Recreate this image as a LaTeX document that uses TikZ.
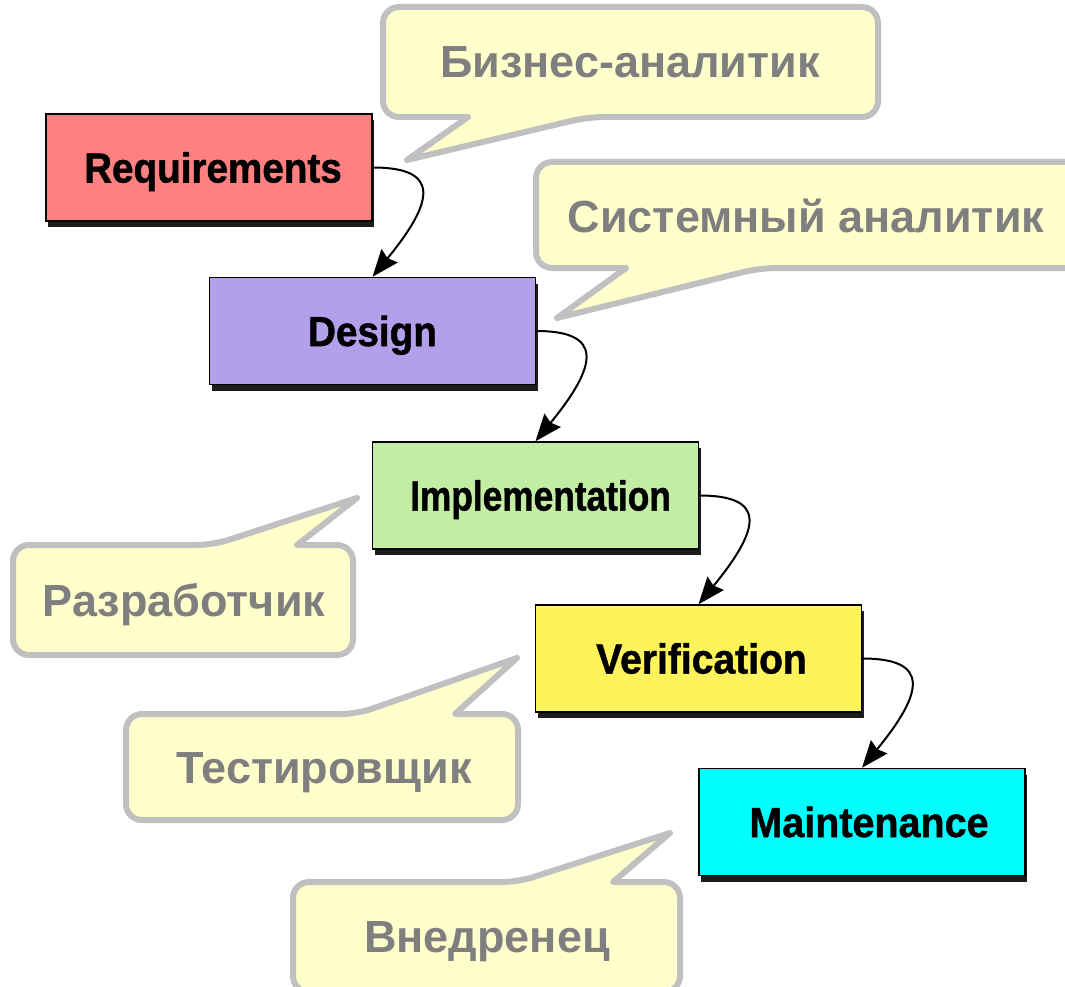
\documentclass[tikz,border=0pt]{standalone}
\usepackage{fontspec}
\setmainfont{Liberation Sans}
\newfontfamily\lblfont{Liberation Sans}[BoldFeatures={FakeBold=1.2}]
\usetikzlibrary{arrows.meta,shadows}
\definecolor{reqc}{HTML}{FF8080}
\definecolor{desc}{HTML}{B3A0EB}
\definecolor{impc}{HTML}{C4EDA4}
\definecolor{verc}{HTML}{FFF35C}
\definecolor{maic}{HTML}{00FFFF}
\definecolor{shadowc}{HTML}{1C1C1C}
\definecolor{calloutline}{HTML}{C0C0C0}
\definecolor{calloutfill}{HTML}{FFFFCC}
\definecolor{callouttext}{HTML}{7F7F7F}
\begin{document}
\begin{tikzpicture}[x=1pt,y=-1pt,
  box/.style={draw=black, line width=1.5pt, minimum width=326pt, minimum height=107pt,
    inner sep=0pt, text height=30pt, text depth=0pt,
    font=\lblfont\bfseries\fontsize{42}{42}\selectfont,
    general shadow={fill=shadowc, shadow xshift=2pt, shadow yshift=-6pt}},
  callout/.style={draw=calloutline, fill=calloutfill, line width=6pt, line join=round},
  ctext/.style={text=callouttext, font=\bfseries\fontsize{45}{45}\selectfont,
    inner sep=0pt, text height=32pt, text depth=0pt},
  flow/.style={draw=black, line width=2pt, -{Stealth[length=27pt,width=21pt,inset=3pt]}}
]
\useasboundingbox (0,0) rectangle (1065,987);
\clip (0,0) rectangle (1065,987);

% callouts
\draw[callout] (468,117) [rounded corners=16pt] -- (383,117) -- (383,7) -- (878,7) -- (878,117) -- (588,117) [sharp corners] -- (407,160) -- cycle;
\node[ctext] (t1) at (630,62) {Бизнес-аналитик};

\draw[callout] (626,268) [rounded corners=16pt] -- (536,268) -- (536,162) -- (1090,162) -- (1090,268) -- (760,268) [sharp corners] -- (557,318) -- cycle;
\node[ctext] (t2) at (806,216) {Системный аналитик};

\draw[callout] (297,545) [rounded corners=16pt] -- (353,545) -- (353,655) -- (13,655) -- (13,545) -- (213,545) [sharp corners] -- (357,498) -- cycle;
\node[ctext] (t3) at (184,600) {Разработчик};

\draw[callout] (455,714) [rounded corners=16pt] -- (518,714) -- (518,820) -- (126,820) -- (126,714) -- (357,714) [sharp corners] -- (517,658) -- cycle;
\node[ctext] (t4) at (324,767) {Тестировщик};

\draw[callout] (613,882) [rounded corners=16pt] -- (680,882) -- (680,992) -- (293,992) -- (293,882) -- (518,882) [sharp corners] -- (670,833) -- cycle;
\node[ctext] (t5) at (487,936) {Внедренец};

% boxes
\node[box, fill=reqc] (req) at (209,167.5) {\hspace*{8pt}\scalebox{0.92}[1]{Requirements}};
\node[box, fill=desc] (des) at (372.5,331) {\scalebox{0.92}[1]{Design}};
\node[box, fill=impc] (imp) at (535.5,495.5) {\hspace*{10pt}\scalebox{0.84}[1]{Implementation}};
\node[box, fill=verc] (ver) at (698.5,658.5) {\hspace*{6pt}\scalebox{0.93}[1]{Verification}};
\node[box, fill=maic] (mai) at (862,822) {\hspace*{14pt}\scalebox{0.94}[1]{Maintenance}};

% connectors
\draw[flow] (req.east) .. controls +(67,0) and +(63,-77) .. (des.north);
\draw[flow] (des.east) .. controls +(67,0) and +(63,-77) .. (imp.north);
\draw[flow] (imp.east) .. controls +(67,0) and +(63,-77) .. (ver.north);
\draw[flow] (ver.east) .. controls +(67,0) and +(63,-77) .. (mai.north);
\end{tikzpicture}
\end{document}
